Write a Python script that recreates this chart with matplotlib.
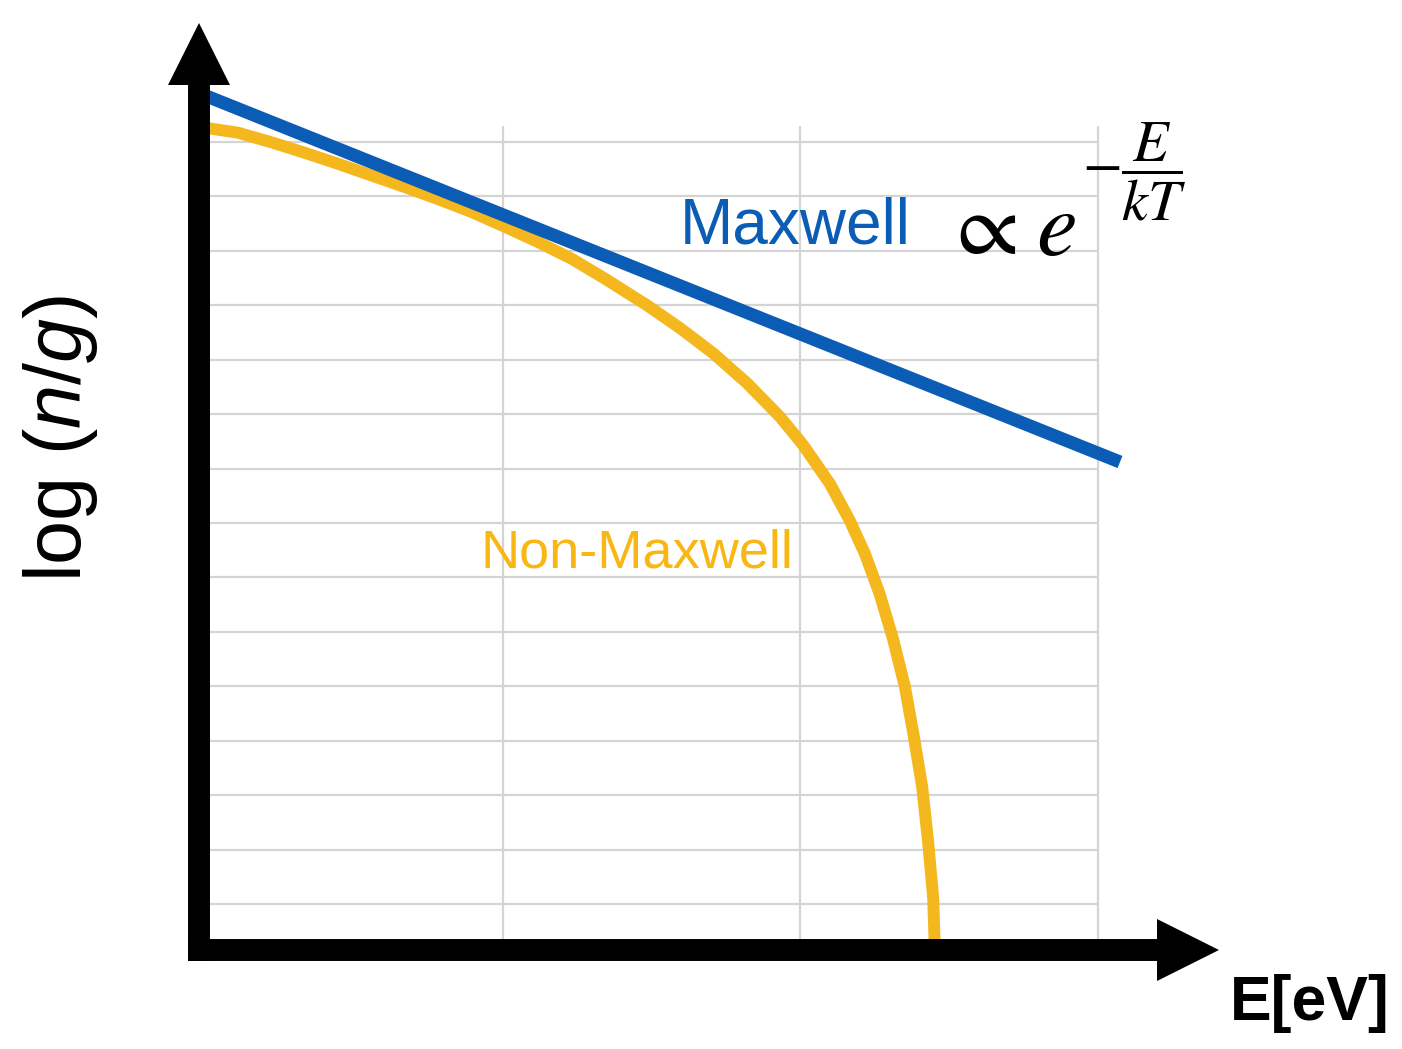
import matplotlib
matplotlib.use("Agg")
import matplotlib.pyplot as plt
from matplotlib.transforms import offset_copy

plt.rcParams['font.family'] = ['Liberation Sans', 'DejaVu Sans']
plt.rcParams['mathtext.fontset'] = 'custom'
plt.rcParams['mathtext.rm'] = 'Liberation Sans'
plt.rcParams['mathtext.it'] = 'Liberation Sans:italic'

# energy axis in grid units, log(n/g) in grid units
maxwell_E = [0.0, 3.074]
maxwell_logn = [15.85, 9.12]

non_maxwell_E = [0.0, 0.109, 0.224, 0.334, 0.445, 0.560, 0.671, 0.782, 0.896,
                 1.007, 1.118, 1.232, 1.345, 1.484, 1.595, 1.706, 1.820, 1.931,
                 2.009, 2.099, 2.166, 2.217, 2.267, 2.311, 2.351, 2.380, 2.409,
                 2.429, 2.446, 2.452]
non_maxwell_logn = [15.26, 15.17, 14.99, 14.80, 14.60, 14.38, 14.17, 13.95, 13.71,
                    13.44, 13.16, 12.85, 12.48, 12.00, 11.58, 11.12, 10.57, 9.95,
                    9.43, 8.72, 8.04, 7.43, 6.68, 5.87, 4.99, 4.11, 3.15,
                    2.14, 1.11, 0.10]

grid_E = [1, 2, 3]
grid_logn = list(range(1, 16))

BLUE = '#0B5CB5'
ORANGE = '#F4B71E'
GRID = '#d4d4d4'

fig = plt.figure(figsize=(14.02, 10.49), dpi=100)
ax = fig.add_axes([0.14194, 0.094376, 0.684023, 0.825547])
ax.set_xlim(-0.02185, 3.2017)
ax.set_ylim(0.1543, 16.0647)
ax.set_facecolor('none')

ax.hlines(grid_logn, 0.0, 3.0, color=GRID, lw=1.6, zorder=1)
ax.vlines(grid_E, 0.0, 15.3, color=GRID, lw=1.6, zorder=1)

ax.plot(non_maxwell_E, non_maxwell_logn, color=ORANGE, lw=8.6,
        solid_capstyle='butt', solid_joinstyle='round', zorder=2)
ax.plot(maxwell_E, maxwell_logn, color=BLUE, lw=9.4,
        solid_capstyle='butt', zorder=2.1)

for side in ['top', 'right']:
    ax.spines[side].set_visible(False)
for side in ['left', 'bottom']:
    ax.spines[side].set_linewidth(15.8)
    ax.spines[side].set_color('black')
    ax.spines[side].set_capstyle('projecting')
    ax.spines[side].set_zorder(3)
ax.set_xticks([])
ax.set_yticks([])

# arrow heads, just past the ends of the axis lines
right_tr = offset_copy(ax.transAxes, fig=fig, x=21.6, y=0, units='points')
top_tr = offset_copy(ax.transAxes, fig=fig, x=0, y=21.6, units='points')
ax.plot(1, 0, '>', ms=44, mew=0, color='black', transform=right_tr, clip_on=False, zorder=4)
ax.plot(0, 1, '^', ms=44, mew=0, color='black', transform=top_tr, clip_on=False, zorder=4)

ax.text(1.595, 13.14, 'Maxwell', color=BLUE, fontsize=46, ha='left', va='baseline')
ax.text(0.9227, 7.19, 'Non-Maxwell', color='#F9B713', fontsize=39, ha='left', va='baseline')

ax.text(2.48, 12.95, r'$\propto$', fontsize=65, math_fontfamily='stix', ha='left', va='baseline')
ax.text(2.79, 12.92, r'$e$', fontsize=66, math_fontfamily='stix', ha='left', va='baseline')
ax.text(2.945, 14.45, r'$-\dfrac{E}{kT}$', fontsize=42, math_fontfamily='stix', ha='left', va='center')

fig.text(60 / 1402, 1 - 438 / 1049, r'log ($n/g$)', fontsize=57, rotation=90,
         ha='center', va='center')
fig.text(1230 / 1402, (1049 - 1020) / 1049, 'E[eV]', fontsize=45, fontweight='bold',
         ha='left', va='baseline')

fig.savefig('out.png', dpi=100)
